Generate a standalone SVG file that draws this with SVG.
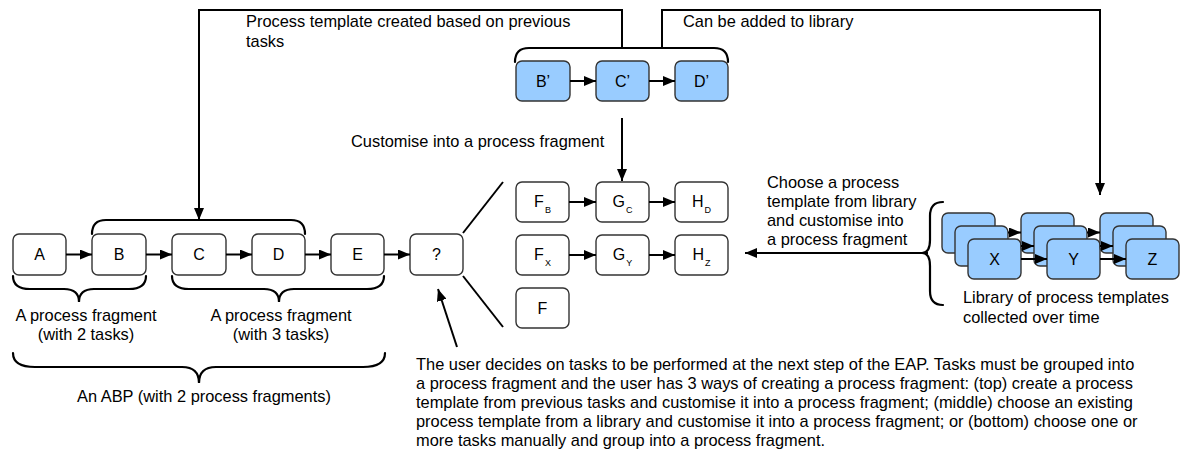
<svg xmlns="http://www.w3.org/2000/svg" width="1180" height="453" viewBox="0 0 1180 453">
  <style>
    .node rect { fill: #ffffff; stroke: #333333; stroke-width: 1.4; }
    .tpl rect { fill: #99ccff; stroke: #333333; stroke-width: 1.4; }
    .lbl { font-family: "Liberation Sans", Arial, sans-serif; font-size: 16px; fill: #000; text-anchor: middle; }
    .sub { font-size: 9px; }
    .txt { font-family: "Liberation Sans", Arial, sans-serif; font-size: 16.4px; fill: #000; }
    .mid { text-anchor: middle; }
    .line { fill: none; stroke: #000; stroke-width: 2; }
    .arrow { fill: none; stroke: #000; stroke-width: 2; marker-end: url(#head); }
    .brace { fill: none; stroke: #000; stroke-width: 2.2; stroke-linecap: round; }
  </style>
  <defs>
    <marker id="head" markerUnits="userSpaceOnUse" markerWidth="12" markerHeight="10" refX="12" refY="5" orient="auto">
      <path d="M0,0 L12,5 L0,10 z" fill="#000"/>
    </marker>
  </defs>

  <rect width="1180" height="453" fill="#ffffff"/>

  <!-- current process: A B C D E ? -->
  <g id="node-a" class="node"><rect x="13" y="234" width="53" height="41" rx="6"/><text class="lbl" x="39.5" y="260">A</text></g>
  <g id="node-b" class="node"><rect x="92" y="234" width="54" height="41" rx="6"/><text class="lbl" x="119" y="260">B</text></g>
  <g id="node-c" class="node"><rect x="172" y="234" width="54" height="41" rx="6"/><text class="lbl" x="199" y="260">C</text></g>
  <g id="node-d" class="node"><rect x="252" y="234" width="53" height="41" rx="6"/><text class="lbl" x="278.5" y="260">D</text></g>
  <g id="node-e" class="node"><rect x="331" y="234" width="53" height="41" rx="6"/><text class="lbl" x="357.5" y="260">E</text></g>
  <g id="node-next" class="node"><rect x="410" y="234" width="53" height="41" rx="6"/><text class="lbl" x="436.5" y="260">?</text></g>

  <!-- template built from previous tasks -->
  <g id="tpl-b" class="tpl"><rect x="516" y="61" width="54" height="40" rx="6"/><text class="lbl" x="543" y="87">B’</text></g>
  <g id="tpl-c" class="tpl"><rect x="596" y="61" width="53" height="40" rx="6"/><text class="lbl" x="622.5" y="87">C’</text></g>
  <g id="tpl-d" class="tpl"><rect x="675" y="61" width="53" height="40" rx="6"/><text class="lbl" x="701.5" y="87">D’</text></g>

  <!-- candidate fragments -->
  <g id="frag-fb" class="node"><rect x="516" y="182" width="53" height="40" rx="6"/><text class="lbl" x="542.5" y="207">F<tspan class="sub" dx="1" dy="6">B</tspan></text></g>
  <g id="frag-gc" class="node"><rect x="596" y="182" width="53" height="40" rx="6"/><text class="lbl" x="622.5" y="207">G<tspan class="sub" dx="1" dy="6">C</tspan></text></g>
  <g id="frag-hd" class="node"><rect x="675" y="182" width="53" height="40" rx="6"/><text class="lbl" x="701.5" y="207">H<tspan class="sub" dx="1" dy="6">D</tspan></text></g>
  <g id="frag-fx" class="node"><rect x="516" y="235" width="53" height="40" rx="6"/><text class="lbl" x="542.5" y="260">F<tspan class="sub" dx="1" dy="6">X</tspan></text></g>
  <g id="frag-gy" class="node"><rect x="596" y="235" width="53" height="40" rx="6"/><text class="lbl" x="622.5" y="260">G<tspan class="sub" dx="1" dy="6">Y</tspan></text></g>
  <g id="frag-hz" class="node"><rect x="675" y="235" width="53" height="40" rx="6"/><text class="lbl" x="701.5" y="260">H<tspan class="sub" dx="1" dy="6">Z</tspan></text></g>
  <g id="frag-f" class="node"><rect x="516" y="288" width="53" height="40" rx="6"/><text class="lbl" x="542.5" y="314">F</text></g>

  <!-- template library: three stacks of three -->
  <g id="lib-x" class="tpl">
    <rect x="942" y="213" width="53" height="40" rx="6"/>
    <rect x="955" y="226" width="53" height="40" rx="6"/>
    <rect x="968" y="239" width="53" height="40" rx="6"/>
    <text class="lbl" x="994.5" y="265">X</text>
  </g>
  <g id="lib-y" class="tpl">
    <rect x="1021" y="213" width="53" height="40" rx="6"/>
    <rect x="1034" y="226" width="53" height="40" rx="6"/>
    <rect x="1047" y="239" width="53" height="40" rx="6"/>
    <text class="lbl" x="1073.5" y="265">Y</text>
  </g>
  <g id="lib-z" class="tpl">
    <rect x="1100" y="213" width="53" height="40" rx="6"/>
    <rect x="1113" y="226" width="53" height="40" rx="6"/>
    <rect x="1126" y="239" width="53" height="40" rx="6"/>
    <text class="lbl" x="1152.5" y="265">Z</text>
  </g>

  <g id="connectors">
    <!-- main row -->
    <line class="arrow" x1="66" y1="254.5" x2="92" y2="254.5"/>
    <line class="arrow" x1="146" y1="254.5" x2="172" y2="254.5"/>
    <line class="arrow" x1="226" y1="254.5" x2="252" y2="254.5"/>
    <line class="arrow" x1="305" y1="254.5" x2="331" y2="254.5"/>
    <line class="arrow" x1="384" y1="254.5" x2="410" y2="254.5"/>
    <!-- template row -->
    <line class="arrow" x1="570" y1="81" x2="596" y2="81"/>
    <line class="arrow" x1="649" y1="81" x2="675" y2="81"/>
    <!-- fragment rows -->
    <line class="arrow" x1="569" y1="202" x2="596" y2="202"/>
    <line class="arrow" x1="649" y1="202" x2="675" y2="202"/>
    <line class="arrow" x1="569" y1="255" x2="596" y2="255"/>
    <line class="arrow" x1="649" y1="255" x2="675" y2="255"/>
    <!-- library stacks -->
    <line class="arrow" x1="1008" y1="232.5" x2="1021" y2="232.5"/>
    <line class="arrow" x1="1087" y1="232.5" x2="1100" y2="232.5"/>
    <line class="arrow" x1="1021" y1="246" x2="1034" y2="246"/>
    <line class="arrow" x1="1100" y1="246" x2="1113" y2="246"/>
    <line class="arrow" x1="1021" y1="259" x2="1047" y2="259"/>
    <line class="arrow" x1="1100" y1="259" x2="1126" y2="259"/>

    <!-- previous tasks to template, template to library -->
    <polyline class="arrow" points="622,48 622,10 199,10 199,220"/>
    <polyline class="arrow" points="662,48 662,10 1100,10 1100,195"/>
    <!-- template to fragment -->
    <line class="arrow" x1="622" y1="118" x2="622" y2="181"/>
    <!-- library to fragment -->
    <line class="arrow" x1="928" y1="253" x2="745" y2="253"/>
    <!-- ? fans out to the three options -->
    <line class="line" x1="463" y1="233" x2="503" y2="182"/>
    <line class="line" x1="463" y1="276" x2="503" y2="327"/>
    <!-- user decides -->
    <line class="arrow" x1="457" y1="347" x2="438" y2="289"/>
  </g>

  <!-- brackets -->
  <path class="brace" d="M515,62 Q515,48 529,48 L714,48 Q728,48 728,62"/>
  <path class="brace" d="M92,234 Q92,220 106,220 L291,220 Q305,220 305,234"/>
  <path class="brace" d="M13,276 Q13,289 30,289 L64,289 Q79,289 79,302 Q79,289 94,289 L129,289 Q146,289 146,276"/>
  <path class="brace" d="M172,276 Q172,289 189,289 L264,289 Q279,289 279,302 Q279,289 294,289 L367,289 Q384,289 384,276"/>
  <path class="brace" d="M13,353 Q13,367 35,367 L182,367 Q199,367 199,383 Q199,367 216,367 L363,367 Q385,367 385,353"/>
  <path class="brace" d="M943,202 Q930,202 930,216 L930,240 Q930,253 922,253 Q930,253 930,266 L930,291 Q930,305 943,305"/>

  <!-- annotations -->
  <text class="txt" x="246" y="27">Process template created based on previous</text>
  <text class="txt" x="246" y="47">tasks</text>
  <text class="txt" x="683" y="27">Can be added to library</text>
  <text class="txt" x="351" y="147">Customise into a process fragment</text>
  <text class="txt" x="767" y="188">Choose a process</text>
  <text class="txt" x="767" y="207">template from library</text>
  <text class="txt" x="767" y="226">and customise into</text>
  <text class="txt" x="767" y="245">a process fragment</text>
  <text class="txt" x="963" y="303">Library of process templates</text>
  <text class="txt" x="963" y="323">collected over time</text>
  <text class="txt mid" x="86" y="321">A process fragment</text>
  <text class="txt mid" x="86" y="340">(with 2 tasks)</text>
  <text class="txt mid" x="281" y="321">A process fragment</text>
  <text class="txt mid" x="281" y="340">(with 3 tasks)</text>
  <text class="txt mid" x="204" y="402">An ABP (with 2 process fragments)</text>
  <text class="txt" x="416" y="370">The user decides on tasks to be performed at the next step of the EAP. Tasks must be grouped into</text>
  <text class="txt" x="416" y="389">a process fragment and the user has 3 ways of creating a process fragment: (top) create a process</text>
  <text class="txt" x="416" y="408">template from previous tasks and customise it into a process fragment; (middle) choose an existing</text>
  <text class="txt" x="416" y="427">process template from a library and customise it into a process fragment; or (bottom) choose one or</text>
  <text class="txt" x="416" y="446">more tasks manually and group into a process fragment.</text>
</svg>
